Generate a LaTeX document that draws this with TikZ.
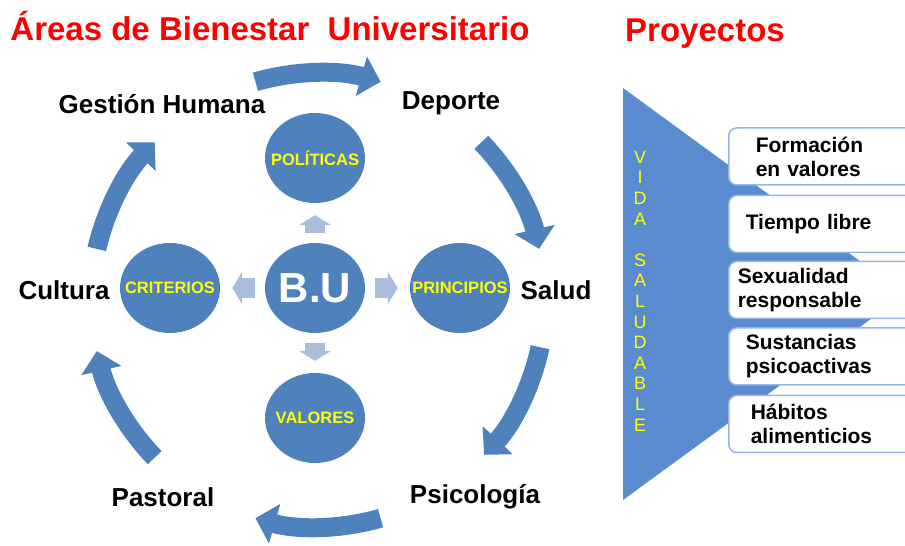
\documentclass[tikz,border=0pt]{standalone}
\usepackage{fontspec}
\setmainfont{Liberation Sans}
\usetikzlibrary{arrows.meta,shapes.geometric}

\definecolor{buBlue}{HTML}{4F81BD}
\definecolor{panelBlue}{HTML}{5A8BCF}
\definecolor{linkBlue}{HTML}{A9BEDD}
\definecolor{boxEdge}{HTML}{95B6E0}
\definecolor{titleRed}{HTML}{FF0000}
\definecolor{pillYellow}{HTML}{FFFF00}

\begin{document}
\begin{tikzpicture}[x=1pt,y=1pt,
		area/.style={anchor=base,font=\fontsize{26}{30}\selectfont\bfseries},
		heading/.style={anchor=base,text=titleRed,font=\fontsize{33}{38}\selectfont\bfseries},
		core/.style={ellipse,fill=buBlue,minimum width=100pt,minimum height=90pt,inner xsep=-14pt,inner ysep=0pt,text=pillYellow,font=\fontsize{16.5}{18}\selectfont\bfseries},
		link/.style={line width=20pt,draw=linkBlue,-{Triangle[width=32pt,length=10pt]},shorten <=10pt,shorten >=12pt},
		ringarrow/.style={line width=19pt,draw=buBlue,-{Triangle[width=40pt,length=20pt]}},
		project/.style={draw=boxEdge,line width=1.5pt,fill=white,rounded corners=8pt,anchor=west,minimum height=57pt,inner ysep=0pt,text width=170pt,align=left,font=\fontsize{21}{24}\selectfont\bfseries}]
	\useasboundingbox (0,0) rectangle (905,546);
	\clip (0,0) rectangle (905,546);
	% titles
	\node (areas) [heading] at (270,505) {Áreas de Bienestar\ \ Universitario};
	\node (proyectos) [heading] at (705,504) {Proyectos};
	% ring of areas
	\coordinate (ring) at (318,246);
	\node (gestion) [area] at (162,432) {Gestión Humana};
	\node (deporte) [area] at (451,436) {Deporte};
	\node (salud) [area] at (556,246) {Salud};
	\node (psico) [area] at (475,42) {Psicología};
	\node (pastoral) [area] at (163,39) {Pastoral};
	\node (cultura) [area] at (64,246) {Cultura};
	\draw [ringarrow] ([shift={(106:227)}]ring) arc[start angle=106,end angle=74,radius=227];
	\draw [ringarrow] ([shift={(44:227)}]ring) arc[start angle=44,end angle=13,radius=227];
	\draw [ringarrow] ([shift={(-12:227)}]ring) arc[start angle=-12,end angle=-43,radius=227];
	\draw [ringarrow] ([shift={(-74:227)}]ring) arc[start angle=-74,end angle=-106,radius=227];
	\draw [ringarrow] ([shift={(-136:227)}]ring) arc[start angle=-136,end angle=-167,radius=227];
	\draw [ringarrow] ([shift={(167:227)}]ring) arc[start angle=167,end angle=136,radius=227];
	% centre
	\node (bu) [core,text=white,font=\fontsize{42}{46}\selectfont\bfseries] at (315,258) {B.U};
	\node (pol) [core] at (315,388) {POLÍTICAS};
	\node (prin) [core] at (460,258) {PRINCIPIOS};
	\node (val) [core] at (315,128) {VALORES};
	\node (crit) [core] at (170,258) {CRITERIOS};
	\draw [link] (bu) -- (pol);
	\draw [link] (bu) -- (prin);
	\draw [link] (bu) -- (val);
	\draw [link] (bu) -- (crit);
	% projects
	\fill [panelBlue] (623,458) -- (905,252) -- (623,46) -- cycle;
	\node (vida) [align=center,text=pillYellow,font=\fontsize{18}{20.6}\selectfont] at (640,255) {V\\I\\D\\A\\[20.6pt]S\\A\\L\\U\\D\\A\\B\\L\\E};
	\node (fv) [project,inner xsep=27pt] at (728,389.5) {Formación\\en valores};
	\node (tl) [project,inner xsep=17pt] at (728,322) {Tiempo libre};
	\node (sr) [project,inner xsep=9pt] at (728,256) {Sexualidad\\responsable};
	\node (sp) [project,inner xsep=17pt] at (728,189.5) {Sustancias\\psicoactivas};
	\node (ha) [project,inner xsep=22pt] at (728,122) {Hábitos\\alimenticios};
\end{tikzpicture}
\end{document}
